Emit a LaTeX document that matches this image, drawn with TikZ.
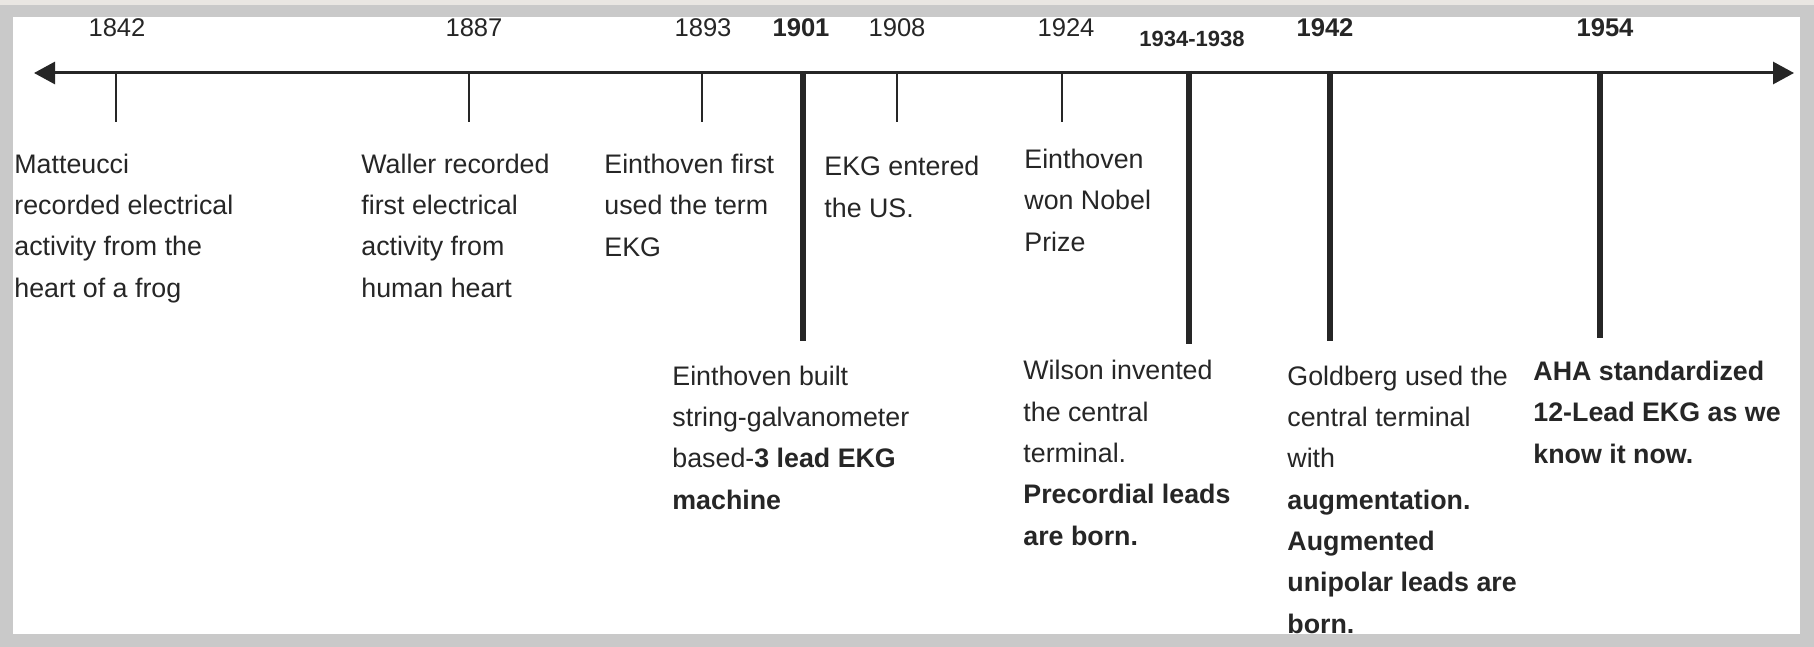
\documentclass[tikz,border=0pt]{standalone}
\usepackage{fontspec}
\setmainfont{Liberation Sans}
\usetikzlibrary{arrows.meta}
\definecolor{framegray}{RGB}{201,201,201}
\definecolor{framelight}{RGB}{233,230,226}
\definecolor{inkgray}{RGB}{38,38,38}
\newcommand\shorttick[2]{
    \coordinate (#1top) at (#2,73);
    \coordinate (#1end) at (#2,122);
    \draw[shorttick] (#1top) -- (#1end);
}
\newcommand\longtick[3]{
    \coordinate (#1top) at (#2,71);
    \coordinate (#1end) at (#2,#3);
    \draw[longtick] (#1top) -- (#1end);
}
\tikzset{
    shorttick/.style={draw=inkgray, line width=1.3pt},
    longtick/.style={draw=inkgray, line width=2.6pt},
    yearlbl/.style={inner sep=0pt, text=inkgray, font=\fontsize{12.8}{15}\selectfont},
    boldyear/.style={yearlbl, font=\fontsize{12.8}{15}\selectfont\bfseries},
    % anchored at the baseline of the last line
    eventtxt/.style={anchor=base west, align=left, inner sep=0pt, text=inkgray,
        font=\fontsize{13.4}{20.65}\selectfont},
}
\begin{document}
\begin{tikzpicture}[x=0.5pt, y=-0.5pt]
    % frame
    \fill[framegray] (0,0) rectangle (1814,647);
    \fill[framelight] (0,0) rectangle (1814,5);
    \fill[white] (13,17) rectangle (1800,634);
    \useasboundingbox (0,0) rectangle (1814,647);

    % time axis
    \coordinate (axisL) at (34,73);
    \coordinate (axisR) at (1794,73);
    \draw[draw=inkgray, line width=1.5pt,
        {Triangle[length=10.5pt,width=11pt]}-{Triangle[length=10.5pt,width=11pt]}] (axisL) -- (axisR);

    % years
    \node[yearlbl] (y1842) at (117,28) {1842};
    \node[yearlbl] (y1887) at (474,28) {1887};
    \node[yearlbl] (y1893) at (703,28) {1893};
    \node[boldyear] (y1901) at (801,28) {1901};
    \node[yearlbl] (y1908) at (897,28) {1908};
    \node[yearlbl] (y1924) at (1066,28) {1924};
    \node[boldyear, font=\fontsize{11}{13}\selectfont\bfseries] (y1934) at (1192,39) {1934-1938};
    \node[boldyear] (y1942) at (1325,28) {1942};
    \node[boldyear] (y1954) at (1605,28) {1954};

    % short ticks
    \shorttick{k1842}{116}
    \shorttick{k1887}{469}
    \shorttick{k1893}{702}
    \shorttick{k1908}{897}
    \shorttick{k1924}{1062}

    % long ticks
    \longtick{k1901}{803}{341}
    \longtick{k1934}{1189}{344}
    \longtick{k1942}{1330}{341}
    \longtick{k1954}{1600}{338}

    % events above
    \node[eventtxt] (e1842) at (14,297) {Matteucci\\recorded electrical\\activity from the\\heart of a frog};
    \node[eventtxt] (e1887) at (361,297) {Waller recorded\\first electrical\\activity from\\human heart};
    \node[eventtxt] (e1893) at (604,256) {Einthoven first\\used the term\\EKG};
    \node[eventtxt] (e1908) at (824,217) {EKG entered\\the US.};
    \node[eventtxt] (e1924) at (1024,251) {Einthoven\\won Nobel\\Prize};

    % events below
    \node[eventtxt] (e1901) at (672,509) {Einthoven built\\string-galvanometer\\based-\textbf{3 lead EKG}\\\textbf{machine}};
    \node[eventtxt] (e1934) at (1023,545) {Wilson invented\\the central\\terminal.\\\textbf{Precordial leads}\\\textbf{are born.}};
    \node[eventtxt] (e1942) at (1287,633) {Goldberg used the\\central terminal\\with\\\textbf{augmentation.}\\\textbf{Augmented}\\\textbf{unipolar leads are}\\\textbf{born.}};
    \node[eventtxt] (e1954) at (1533,463) {\textbf{AHA standardized}\\\textbf{12-Lead EKG as we}\\\textbf{know it now.}};
\end{tikzpicture}
\end{document}
